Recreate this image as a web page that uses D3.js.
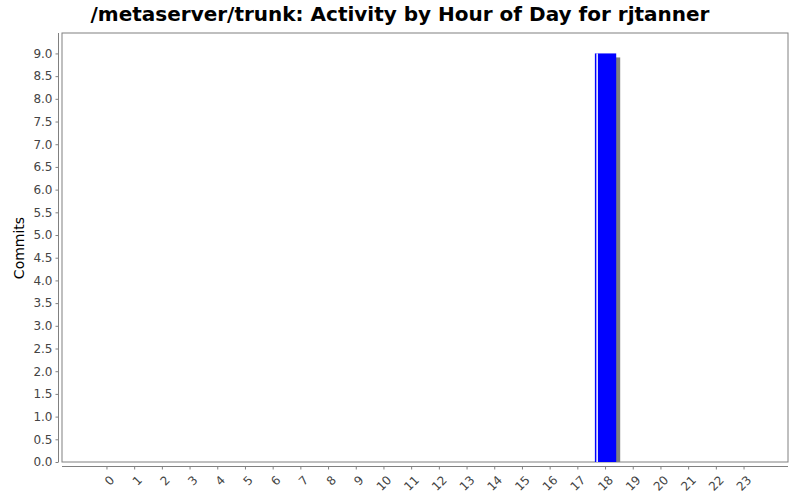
<!DOCTYPE html>
<html><head><meta charset="utf-8">
<script src="https://cdn.jsdelivr.net/npm/d3@7"></script>
<style>body{margin:0;background:#fff}svg{display:block}</style>
</head><body>
<svg id="c" width="800" height="500"></svg>
<script>
const hours = ["0","1","2","3","4","5","6","7","8","9","10","11","12","13","14","15","16","17","18","19","20","21","22","23"];
const commits = [0,0,0,0,0,0,0,0,0,0,0,0,0,0,0,0,0,0,9,0,0,0,0,0];
const yTicks = [0,0.5,1,1.5,2,2.5,3,3.5,4,4.5,5,5.5,6,6.5,7,7.5,8,8.5,9];
const title = "/metaserver/trunk: Activity by Hour of Day for rjtanner";
const yLabel = "Commits";

const svg = d3.select("#c");
const font = "'DejaVu Sans', sans-serif";
const L = 62, R = 788, T = 33, B = 462;

svg.append("text").attr("x", 400).attr("y", 21).attr("text-anchor", "middle")
  .attr("font-family", font).attr("font-weight", "bold").attr("font-size", 20)
  .text(title);

svg.append("rect").attr("x", L).attr("y", T).attr("width", R - L).attr("height", B - T)
  .attr("fill", "#fff").attr("stroke", "#808080").attr("stroke-width", 1);

const y = d3.scaleLinear().domain([0, 9.45]).range([B, T]);
const x = d3.scaleBand().domain(hours).range([L + 34.3, R - 33.3]).paddingInner(0.23).paddingOuter(0);

// y axis
const yAx = svg.append("g").attr("transform", `translate(${58.5},0)`)
  .call(d3.axisLeft(y).tickValues(yTicks).tickFormat(d3.format(".1f")).tickSizeOuter(0).tickSize(3).tickPadding(3));
yAx.select(".domain").attr("stroke", "#808080").attr("d", `M0,${T}V${B}`);
yAx.selectAll(".tick line").attr("stroke", "#808080");
yAx.selectAll("text").attr("font-family", font).attr("font-size", 12).attr("fill", "#444");

// x axis
const xAx = svg.append("g").attr("transform", `translate(0,${466.5})`)
  .call(d3.axisBottom(x).tickSizeOuter(0).tickSize(3));
xAx.select(".domain").attr("stroke", "#808080").attr("d", `M${L},0H${R}`);
xAx.selectAll(".tick line").attr("stroke", "#808080");
xAx.selectAll("text").attr("font-family", font).attr("font-size", 12).attr("fill", "#444")
  .attr("text-anchor", "end").attr("dy", null)
  .attr("transform", "translate(4,10) rotate(-45)");

svg.append("text").attr("transform", `translate(24,${248}) rotate(-90)`)
  .attr("text-anchor", "middle").attr("font-family", font).attr("font-size", 14)
  .text(yLabel);

const data = hours.map((h, i) => ({h, v: commits[i]})).filter(d => d.v > 0);
const g = svg.append("g");
// shadow
g.selectAll(".sh").data(data).join("rect")
  .attr("x", d => x(d.h) + 4).attr("y", d => y(d.v) + 4)
  .attr("width", x.bandwidth()).attr("height", d => B - y(d.v) - 4)
  .attr("fill", "#808080");
g.selectAll(".bar").data(data).join("rect")
  .attr("x", d => x(d.h)).attr("y", d => y(d.v))
  .attr("width", x.bandwidth()).attr("height", d => B - y(d.v))
  .attr("fill", "#0000ff");
// highlight strip
g.selectAll(".hl").data(data).join("rect")
  .attr("x", d => x(d.h) + 1.5).attr("y", d => y(d.v))
  .attr("width", 1.5).attr("height", d => B - y(d.v))
  .attr("fill", "#ffffff");
</script>
</body></html>
